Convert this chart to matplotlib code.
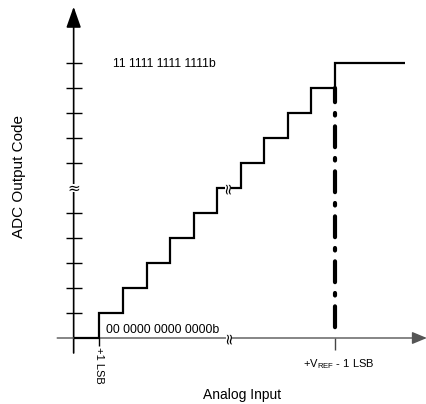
import numpy as np
import matplotlib.pyplot as plt

plt.rcParams['font.family'] = ['Liberation Sans', 'DejaVu Sans']
plt.rcParams['mathtext.fontset'] = 'custom'
plt.rcParams['mathtext.rm'] = 'Liberation Sans'

# Donnees de la fonction de transfert (x en LSB, y en codes)
codes = [0, 1, 2, 3, 4, 5, 6, 7, 8, 9, 10, 11]
edges = [-0.1, 1, 2, 3, 4, 5, 6, 7, 8, 9, 10, 11, 14]
ytick_codes = [1, 2, 3, 4, 5, 7, 8, 9, 10, 11]
break_code = 6
break_x = 6.45
full_scale = 11

label_top = '11 1111 1111 1111b'
label_bottom = '00 0000 0000 0000b'
label_lsb = '+1 LSB'
label_vref = r'+V$_{\mathrm{REF}}$ - 1 LSB'

fig = plt.figure(figsize=(4.27, 4.04), dpi=100)
ax = fig.add_axes([0, 0, 1, 1])
ax.set_xlim(-76 / 23.5, 351 / 23.5)
ax.set_ylim(-66 / 25, 338 / 25)
ax.axis('off')

# Axes avec fleches
ax.annotate('', xy=(-0.1, 13.25), xytext=(-0.1, -0.6),
            arrowprops=dict(arrowstyle='-|>,head_length=0.85,head_width=0.3',
                            mutation_scale=15, lw=1.2, color='black',
                            shrinkA=0, shrinkB=0))
ax.annotate('', xy=(14.93, 0), xytext=(-0.8, 0),
            arrowprops=dict(arrowstyle='-|>,head_length=0.6,head_width=0.25',
                            mutation_scale=15, lw=1.0, color='#555555',
                            shrinkA=0, shrinkB=0))

# Graduations
ax.hlines(ytick_codes, -0.44, 0.24, color='black', lw=1.0)
ax.vlines([1], -0.32, 0, color='black', lw=1.0)
ax.vlines([full_scale], -0.48, 0, color='#444444', lw=1.0)

# Escalier
ax.stairs(codes, edges, baseline=None, color='black', lw=1.6, zorder=3)

# Ligne pleine echelle (tracee du haut vers le bas)
ax.plot([full_scale, full_scale], [codes[-2], 0], color='black', lw=3.0,
        linestyle=(1.6, (5, 2.6, 0.6, 2.6)), dash_capstyle='round', zorder=2)

# Coupures : petit trou blanc puis le signe
ax.vlines([-0.1], break_code - 0.16, break_code + 0.16, color='white',
          lw=4, zorder=3.5)
ax.hlines([break_code], break_x - 0.13, break_x + 0.13, color='white',
          lw=4, zorder=3.5)
ax.hlines([0], break_x + 0.05 - 0.13, break_x + 0.05 + 0.13, color='white',
          lw=4, zorder=3.5)
brk = dict(fontsize=11, family='DejaVu Sans', ha='center', va='center',
           zorder=4)
ax.text(-0.1, break_code, '≈', **brk)
ax.text(break_x, break_code, '≈', rotation=90, **brk)
ax.text(break_x + 0.05, 0, '≈', rotation=90, **brk)

# Textes
ax.text(1.57, 10.96, label_top, fontsize=8.8, ha='left', va='center')
ax.text(1.28, 0.32, label_bottom, fontsize=8.8, ha='left', va='center')
ax.text(1, -0.36, label_lsb, fontsize=8, rotation=-90, ha='center', va='top')
ax.text(11.2, -1.04, label_vref, fontsize=8, ha='center', va='center')
ax.text(7.06, -2.28, 'Analog Input', fontsize=10, ha='center', va='center')
ax.text(-2.43, 6.44, 'ADC Output Code', fontsize=11, rotation=90,
        ha='center', va='center')

plt.savefig('out.png', dpi=100)
